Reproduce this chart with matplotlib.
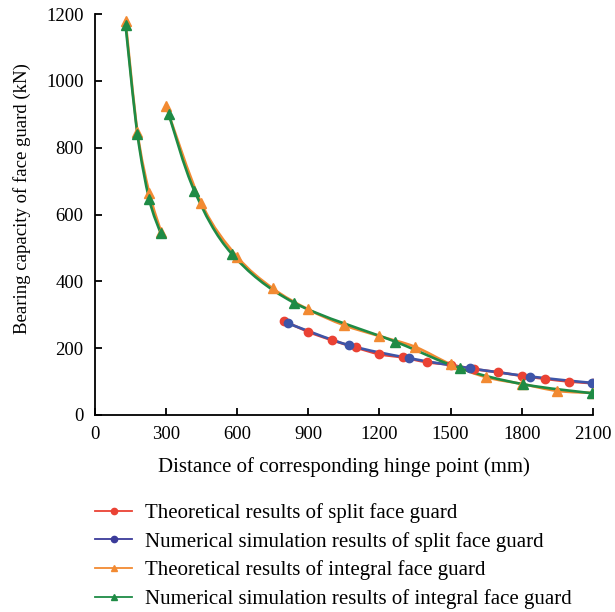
import matplotlib
matplotlib.use("Agg")
import matplotlib.pyplot as plt
from matplotlib.path import Path
from matplotlib.patches import PathPatch
from matplotlib.lines import Line2D
import numpy as np

plt.rcParams['font.family'] = ['Liberation Serif', 'DejaVu Serif']

# theoretical, split face guard
split_theo_x = [800, 900, 1000, 1100, 1200, 1300, 1400, 1500, 1600, 1700, 1800, 1900, 2000, 2100]
split_theo_y = [281, 249, 224, 202, 182, 172, 158, 150, 137, 128, 117, 108, 100, 95]

# numerical simulation, split face guard
split_num_x = [815, 1070, 1325, 1580, 1835, 2095]
split_num_y = [274, 209, 170, 140, 115, 96]

# theoretical, integral face guard (two segments)
int_theo_x1 = [130, 180, 230, 280]
int_theo_y1 = [1180, 848, 665, 548]
int_theo_x2 = [300, 450, 600, 750, 900, 1050, 1200, 1350, 1500, 1650, 1800, 1950, 2100]
int_theo_y2 = [925, 633, 474, 379, 316, 269, 236, 204, 152, 113, 93, 72, 66]

# numerical simulation, integral face guard (two segments)
int_num_x1 = [130, 180, 230, 278]
int_num_y1 = [1167, 841, 645, 544]
int_num_x2 = [312, 420, 578, 840, 1268, 1538, 1805, 2095]
int_num_y2 = [900, 671, 482, 336, 219, 140, 92, 65]

labels = ["Theoretical results of split face guard",
          "Numerical simulation results of split face guard",
          "Theoretical results of integral face guard",
          "Numerical simulation results of integral face guard"]

c_red = "#EA4234"
c_blue = "#3E55A8"
c_orange = "#F28A32"
c_green = "#1E8B45"


def smooth_path(xs, ys):
    # excel-like smoothed line drawn as cubic bezier segments
    p = np.column_stack([xs, ys]).astype(float)
    n = len(p)
    verts = [p[0]]
    codes = [Path.MOVETO]
    for i in range(n - 1):
        p0 = p[i - 1] if i > 0 else p[i]
        p3 = p[i + 2] if i + 2 < n else p[i + 1]
        c1 = p[i] + (p[i + 1] - p0) / 6.0
        c2 = p[i + 1] - (p3 - p[i]) / 6.0
        verts += [c1, c2, p[i + 1]]
        codes += [Path.CURVE4] * 3
    return Path(verts, codes)


def draw(ax, xs, ys, color, marker, ms):
    ax.add_patch(PathPatch(smooth_path(xs, ys), facecolor='none', edgecolor=color,
                           lw=1.9, capstyle='round', joinstyle='round'))
    ax.plot(xs, ys, linestyle='none', marker=marker, color=color, markersize=ms)


fig = plt.figure(figsize=(6.15, 6.12), dpi=100)
ax = fig.add_axes([0.154, 0.322, 0.810, 0.655])

draw(ax, split_theo_x, split_theo_y, c_red, 'o', 6)
draw(ax, split_num_x, split_num_y, c_blue, 'o', 6)
draw(ax, int_theo_x1, int_theo_y1, c_orange, '^', 6.5)
draw(ax, int_theo_x2, int_theo_y2, c_orange, '^', 6.5)
draw(ax, int_num_x1, int_num_y1, c_green, '^', 6.5)
draw(ax, int_num_x2, int_num_y2, c_green, '^', 6.5)

ax.set_xlim(0, 2100)
ax.set_ylim(0, 1200)
ax.set_xticks(np.arange(0, 2101, 300))
ax.set_yticks(np.arange(0, 1201, 200))
ax.spines['top'].set_visible(False)
ax.spines['right'].set_visible(False)
for s in ['left', 'bottom']:
    ax.spines[s].set_linewidth(1.3)
ax.tick_params(direction='in', length=5, width=1.3, labelsize=13.5, pad=8)
ax.set_xlabel("Distance of corresponding hinge point (mm)", fontsize=15, labelpad=10)
ax.set_ylabel("Bearing capacity of face guard (kN)", fontsize=13.5)
ax.yaxis.set_label_coords(-0.127, 0.54)

handles = [
    Line2D([], [], color=c_red, marker='o', markersize=4.5, lw=1.3),
    Line2D([], [], color="#3B3B9A", marker='o', markersize=4.5, lw=1.3),
    Line2D([], [], color=c_orange, marker='^', markersize=4.5, lw=1.3),
    Line2D([], [], color=c_green, marker='^', markersize=4.5, lw=1.3),
]
fig.legend(handles, labels, loc='upper left', bbox_to_anchor=(0.155, 0.178),
           frameon=False, fontsize=15, handlelength=1.75, handletextpad=0.65,
           labelspacing=0.42, borderaxespad=0, borderpad=0)

fig.savefig("out.png", dpi=100)
